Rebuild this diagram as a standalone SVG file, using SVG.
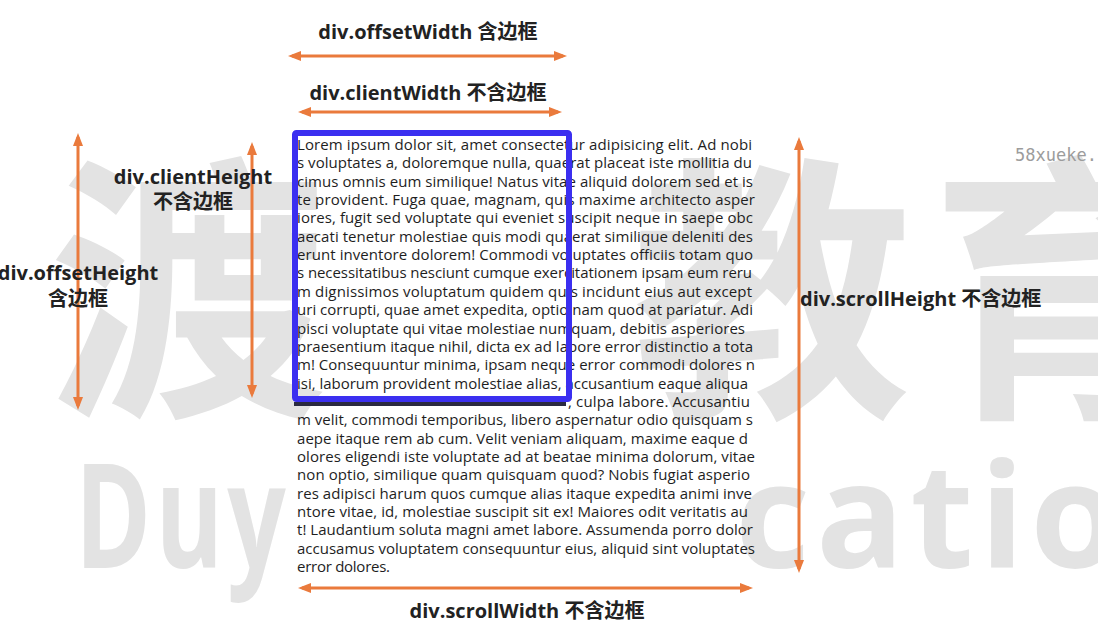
<svg xmlns="http://www.w3.org/2000/svg" width="1098" height="637" viewBox="0 0 1098 637">
  <style>
    .wm { fill: #e3e3e3; font-family: "Noto Sans CJK SC", sans-serif; font-weight: 700; font-size: 280px; }
    .wmL { fill: #e3e3e3; font-family: "Open Sans", sans-serif; font-weight: 700; font-size: 146px; letter-spacing: 6px; }
    .lbl { fill: #222; font-family: "Open Sans", "Noto Sans CJK SC", sans-serif; font-weight: 700; font-size: 20px; }
    .p { fill: #1e1e1e; font-family: "Open Sans", "Noto Sans", sans-serif; font-size: 15px; }
    .arr { stroke: #ea7a3c; stroke-width: 3; fill: none; marker-start: url(#ah); marker-end: url(#ah); }
    .site { fill: #9c9c9c; font-family: "DejaVu Sans Mono", monospace; font-size: 17px; }
  </style>
  <defs>
    <marker id="ah" viewBox="0 0 13 10" refX="9" refY="5" markerWidth="13" markerHeight="10" markerUnits="userSpaceOnUse" orient="auto-start-reverse">
      <path d="M0,0 L13,5 L0,10 z" fill="#ea7a3c"/>
    </marker>
  </defs>
  <rect width="1098" height="637" fill="#ffffff"/>

  <g id="watermark">
    <text class="wm" x="48" y="396">渡</text>
    <text class="wm" x="632" y="396">教</text>
    <text class="wm" x="930" y="396">育</text>
    <text class="wmL" x="75" y="568" textLength="215" lengthAdjust="spacingAndGlyphs">Duy</text>
    <text class="wmL" x="735" y="568">cation</text>
    <text class="site" x="1015" y="161">58xueke.</text>
  </g>

  <g id="div-content">
    <text class="p" x="297" y="150" textLength="455" lengthAdjust="spacing">Lorem ipsum dolor sit, amet consectetur adipisicing elit. Ad nobi</text>
    <text class="p" x="297" y="168.35" textLength="455" lengthAdjust="spacing">s voluptates a, doloremque nulla, quaerat placeat iste mollitia du</text>
    <text class="p" x="297" y="186.7" textLength="456" lengthAdjust="spacing">cimus omnis eum similique! Natus vitae aliquid dolorem sed et is</text>
    <text class="p" x="297" y="205.05" textLength="458" lengthAdjust="spacing">te provident. Fuga quae, magnam, quis maxime architecto asper</text>
    <text class="p" x="297" y="223.4" textLength="456" lengthAdjust="spacing">iores, fugit sed voluptate qui eveniet suscipit neque in saepe obc</text>
    <text class="p" x="297" y="241.75" textLength="456" lengthAdjust="spacing">aecati tenetur molestiae quis modi quaerat similique deleniti des</text>
    <text class="p" x="297" y="260.1" textLength="456" lengthAdjust="spacing">erunt inventore dolorem! Commodi voluptates officiis totam quo</text>
    <text class="p" x="297" y="278.45" textLength="455" lengthAdjust="spacing">s necessitatibus nesciunt cumque exercitationem ipsam eum reru</text>
    <text class="p" x="297" y="296.8" textLength="455" lengthAdjust="spacing">m dignissimos voluptatum quidem quis incidunt eius aut except</text>
    <text class="p" x="297" y="315.15" textLength="456" lengthAdjust="spacing">uri corrupti, quae amet expedita, optio nam quod at pariatur. Adi</text>
    <text class="p" x="297" y="333.5" textLength="448" lengthAdjust="spacing">pisci voluptate qui vitae molestiae numquam, debitis asperiores</text>
    <text class="p" x="297" y="351.85" textLength="456" lengthAdjust="spacing">praesentium itaque nihil, dicta ex ad labore error distinctio a tota</text>
    <text class="p" x="297" y="370.2" textLength="458" lengthAdjust="spacing">m! Consequuntur minima, ipsam neque error commodi dolores n</text>
    <text class="p" x="297" y="388.55" textLength="451" lengthAdjust="spacing">isi, laborum provident molestiae alias, accusantium eaque aliqua</text>
    <text class="p" x="568" y="406.9" textLength="182" lengthAdjust="spacing">, culpa labore. Accusantiu</text>
    <text class="p" x="297" y="425.25" textLength="456" lengthAdjust="spacing">m velit, commodi temporibus, libero aspernatur odio quisquam s</text>
    <text class="p" x="297" y="443.6" textLength="451" lengthAdjust="spacing">aepe itaque rem ab cum. Velit veniam aliquam, maxime eaque d</text>
    <text class="p" x="297" y="461.95" textLength="458" lengthAdjust="spacing">olores eligendi iste voluptate ad at beatae minima dolorum, vitae</text>
    <text class="p" x="297" y="480.3" textLength="453" lengthAdjust="spacing">non optio, similique quam quisquam quod? Nobis fugiat asperio</text>
    <text class="p" x="297" y="498.65" textLength="455" lengthAdjust="spacing">res adipisci harum quos cumque alias itaque expedita animi inve</text>
    <text class="p" x="297" y="517" textLength="451" lengthAdjust="spacing">ntore vitae, id, molestiae suscipit sit ex! Maiores odit veritatis au</text>
    <text class="p" x="297" y="535.35" textLength="456" lengthAdjust="spacing">t! Laudantium soluta magni amet labore. Assumenda porro dolor</text>
    <text class="p" x="297" y="553.7" textLength="458" lengthAdjust="spacing">accusamus voluptatem consequuntur eius, aliquid sint voluptates</text>
    <text class="p" x="297" y="572.05" textLength="93" lengthAdjust="spacing">error dolores.</text>
  </g>

  <g id="div-border">
    <rect x="294" y="402" width="272" height="4" fill="#2a2a40"/>
    <rect x="295" y="133" width="274" height="266" rx="1.5" fill="none" stroke="#3b2ff0" stroke-width="6"/>
  </g>

  <g id="connectors">
    <line class="arr" x1="292" y1="56" x2="563" y2="56"/>
    <line class="arr" x1="302" y1="112" x2="558" y2="112"/>
    <line class="arr" x1="302" y1="588" x2="749" y2="588"/>
    <line class="arr" x1="78" y1="137" x2="78" y2="406"/>
    <line class="arr" x1="252" y1="146" x2="252" y2="394"/>
    <line class="arr" x1="799" y1="141" x2="799" y2="569"/>
  </g>

  <g id="label-offsetWidth">
    <text class="lbl" x="428" y="39" text-anchor="middle">div.offsetWidth 含边框</text>
  </g>
  <g id="label-clientWidth">
    <text class="lbl" x="428" y="100" text-anchor="middle">div.clientWidth 不含边框</text>
  </g>
  <g id="label-clientHeight">
    <text class="lbl" x="193" y="184" text-anchor="middle">div.clientHeight</text>
    <text class="lbl" x="193" y="209" text-anchor="middle">不含边框</text>
  </g>
  <g id="label-offsetHeight">
    <text class="lbl" x="78" y="280" text-anchor="middle">div.offsetHeight</text>
    <text class="lbl" x="78" y="306" text-anchor="middle">含边框</text>
  </g>
  <g id="label-scrollHeight">
    <text class="lbl" x="800" y="306">div.scrollHeight 不含边框</text>
  </g>
  <g id="label-scrollWidth">
    <text class="lbl" x="527" y="618" text-anchor="middle">div.scrollWidth 不含边框</text>
  </g>
</svg>
